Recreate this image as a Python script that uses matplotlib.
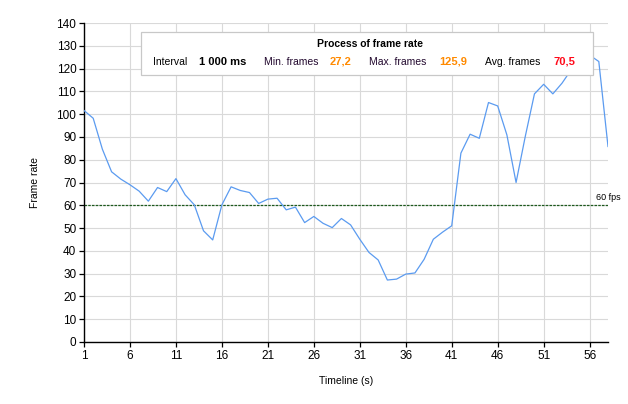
import matplotlib.pyplot as plt
from matplotlib.patches import Rectangle

plt.rcParams['font.family'] = ['Liberation Sans', 'DejaVu Sans']

seconds = list(range(1, 59))
frame_rate = [
    101.6, 98.2, 84.6, 74.7, 71.5, 69.0, 66.2, 61.8, 67.8, 66.0,
    71.7, 64.6, 60.2, 48.8, 44.8, 60.2, 68.1, 66.5, 65.6, 60.8,
    62.7, 63.1, 58.0, 59.2, 52.4, 55.1, 52.1, 50.2, 54.2, 51.4,
    45.1, 39.3, 36.0, 27.2, 27.6, 29.8, 30.3, 36.3, 45.1, 48.2,
    51.0, 82.9, 91.2, 89.4, 105.1, 103.6, 90.9, 70.0, 90.2, 108.9,
    113.1, 108.9, 113.6, 119.5, 123.0, 125.9, 123.1, 85.8,
]
x_ticks = list(range(1, 57, 5))
y_ticks = list(range(0, 141, 10))
target_fps = 60

W, H = 628, 404
fig = plt.figure(figsize=(W / 100, H / 100), dpi=100)
ax = fig.add_axes([84 / W, (H - 342) / H, (608 - 84) / W, (342 - 23) / H])

ax.plot(seconds, frame_rate, color='#5b9bf0', lw=0.9, zorder=3)
ax.axhline(target_fps, color='#1d5a1d', lw=0.9, ls=(0, (2, 1)), zorder=2)
ax.text(56.7, target_fps + 1.3, '60 fps', fontsize=6.5, ha='left', va='bottom',
        clip_on=False)

ax.set_xlim(1, 58)
ax.set_ylim(0, 140)
ax.set_xticks(x_ticks)
ax.set_yticks(y_ticks)
ax.grid(True, color='#d9d9d9', lw=0.8, zorder=0)
ax.set_axisbelow(True)
for side in ['top', 'right']:
    ax.spines[side].set_visible(False)
for side in ['left', 'bottom']:
    ax.spines[side].set_linewidth(1.0)
ax.tick_params(length=3.5, width=0.9, labelsize=8.5, pad=2)

ax.set_xlabel('Timeline (s)', fontsize=7.5, labelpad=10)
ax.set_ylabel('Frame rate', fontsize=7.5, labelpad=12)


def px(x, y):
    return x / W, 1 - y / H


# legend-like info box
box = Rectangle(px(140.5, 75), (593 - 140.5) / W, (75 - 32.3) / H,
                transform=fig.transFigure, facecolor='white',
                edgecolor='#c8c8c8', lw=0.9, zorder=5)
fig.patches.append(box)

fig.text(*px(370, 44), 'Process of frame rate', fontsize=7.5, weight='bold',
         ha='center', va='center', zorder=6)
row = [
    (152.7, 'Interval', 'black', 'normal', 7.5),
    (199.3, '1 000 ms', 'black', 'bold', 8),
    (264, 'Min. frames', '#22082e', 'normal', 7.5),
    (330, '27,2', '#ff8a00', 'bold', 8),
    (369.3, 'Max. frames', '#22082e', 'normal', 7.5),
    (439.3, '125,9', '#ff8a00', 'bold', 8),
    (485.3, 'Avg. frames', 'black', 'normal', 7.5),
    (554, '70,5', '#ff0a1a', 'bold', 8),
]
for x, s, c, w, fs in row:
    fig.text(*px(x, 62), s, color=c, weight=w, fontsize=fs,
             ha='left', va='center', zorder=6)

fig.savefig('out.png', dpi=100)
